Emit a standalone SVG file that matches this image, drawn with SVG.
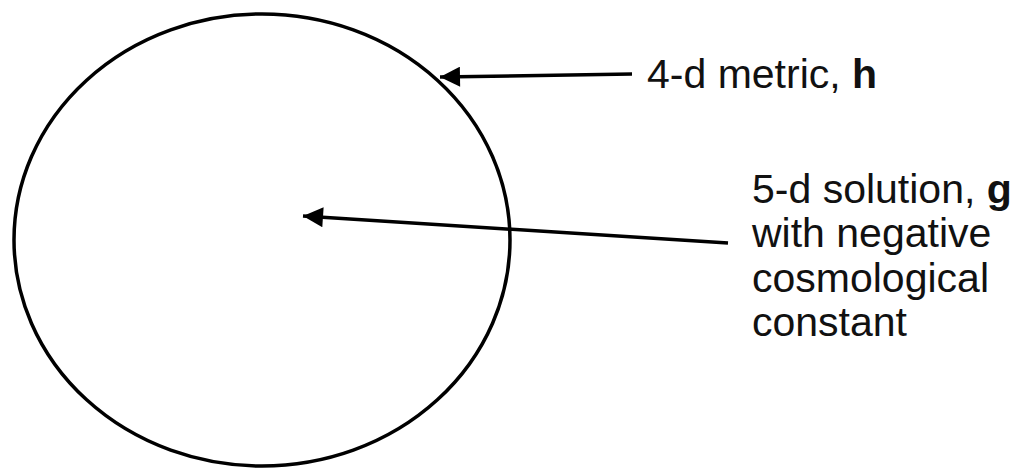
<svg xmlns="http://www.w3.org/2000/svg" width="1013" height="469" viewBox="0 0 1013 469">
<style>
.ln{stroke:#000;stroke-width:3.5;fill:none}
.t{font-family:"Liberation Sans",Arial,sans-serif;font-size:41px;fill:#111}
.b{font-weight:bold}
</style>
<defs>
<marker id="ah" viewBox="0 0 10 10" refX="10" refY="5" markerWidth="23" markerHeight="20" markerUnits="userSpaceOnUse" orient="auto">
<path d="M0,0 L10,5 L0,10 z" fill="#000"/>
</marker>
</defs>
<rect width="1013" height="469" fill="#fff"/>
<g id="circle">
<ellipse cx="262" cy="240" rx="248" ry="226" class="ln"/>
</g>
<g id="label-h">
<text class="t" x="647" y="88">4-d metric, <tspan class="b">h</tspan></text>
</g>
<g id="label-g">
<text class="t" x="752" y="203">5-d solution, <tspan class="b">g</tspan></text>
<text class="t" x="752" y="247">with negative</text>
<text class="t" x="752" y="292">cosmological</text>
<text class="t" x="752" y="336">constant</text>
</g>
<g id="connectors">
<path d="M632,74 L440,77" class="ln" marker-end="url(#ah)"/>
<path d="M728,243 L303,216" class="ln" marker-end="url(#ah)"/>
</g>
</svg>
